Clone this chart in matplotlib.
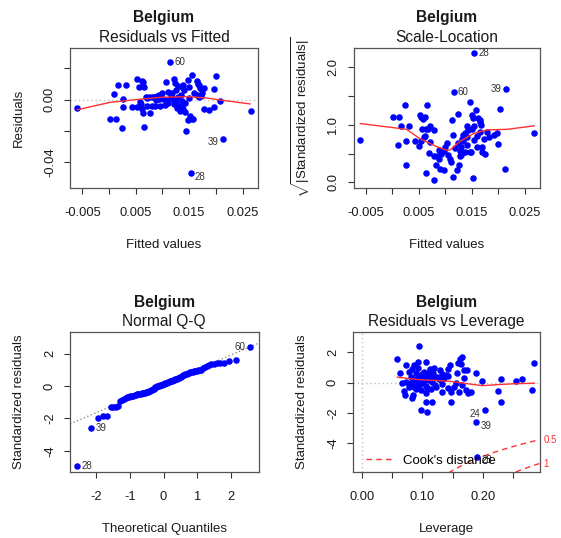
import matplotlib
matplotlib.use("Agg")
import matplotlib.pyplot as plt
import numpy as np
from statistics import NormalDist
from matplotlib.transforms import blended_transform_factory, offset_copy
from matplotlib.lines import Line2D

plt.rcParams['font.family'] = ['Liberation Sans', 'DejaVu Sans']
plt.rcParams['mathtext.fontset'] = 'custom'
plt.rcParams['mathtext.rm'] = 'Liberation Sans'
plt.rcParams['mathtext.it'] = 'Liberation Sans:italic'

country = "Belgium"

# ---------------- Panel 1: Residuals vs Fitted ----------------
fitted1 = [-0.00594, 0.0002, 0.0013, 0.0010, 0.00175, 0.0031, 0.0026, 0.0027, 0.0024, 0.0043,
           0.0052, 0.0052, 0.0061, 0.0064, 0.0057, 0.0066, 0.0061, 0.0058, 0.0064, 0.0066,
           0.0076, 0.0069, 0.0075, 0.0080, 0.0084, 0.0089, 0.0093, 0.0099, 0.0080, 0.0086,
           0.0096, 0.0093, 0.0106, 0.0111, 0.0116, 0.0114, 0.0122, 0.0126, 0.0129, 0.0125,
           0.0131, 0.0136, 0.0133, 0.0139, 0.0143, 0.0136, 0.0139, 0.0141, 0.0147, 0.0149,
           0.0144, 0.0147, 0.0152, 0.0155, 0.0158, 0.0153, 0.0156, 0.0164, 0.0169, 0.0171,
           0.0175, 0.0178, 0.0164, 0.0169, 0.0173, 0.0175, 0.0178, 0.0188, 0.0196, 0.0196,
           0.0201, 0.0208, 0.0213, 0.0266, 0.0108, 0.0119, 0.0111, 0.0121, 0.0071, 0.0124,
           0.0130, 0.0102, 0.0136, 0.0060, 0.0072, 0.0088, 0.0098, 0.0118, 0.0128, 0.0134,
           0.0142, 0.0150, 0.0160, 0.0166, 0.0105]
resid1 = [-0.0051, -0.0126, -0.0121, 0.0034, 0.0092, 0.0092, 0.0006, -0.0049, -0.0181, -0.0049,
          -0.0045, 0.0130, 0.0119, 0.0115, 0.0079, 0.0079, -0.0060, -0.0013, -0.0087, -0.0173,
          -0.0083, 0.0019, 0.0015, 0.0019, 0.0015, 0.0026, 0.0032, 0.0045, -0.0040, -0.0040,
          -0.0040, 0.0002, 0.0111, 0.0051, 0.0026, 0.0241, 0.0132, 0.0062, 0.0015, -0.0013,
          -0.0040, -0.0049, -0.0070, -0.0058, -0.0079, 0.0079, 0.0096, 0.0062, 0.0126, 0.0079,
          -0.0198, -0.0130, -0.0104, -0.0126, -0.0126, -0.0471, 0.0158, 0.0119, 0.0094, 0.0077,
          0.0062, 0.0072, 0.0030, 0.0019, 0.0026, 0.0040, -0.0060, -0.0066, -0.0049, 0.0066,
          0.0153, -0.0006, -0.0249, -0.0072, -0.0002, 0.0002, -0.0023, -0.0028, -0.0040, 0.0104,
          0.0087, 0.0006, -0.0009, -0.0030, 0.0008, -0.0005, 0.0010, 0.0040, -0.0050, 0.0030,
          -0.0020, 0.0008, 0.0045, 0.0100, -0.0035]
ids1 = [("60", 35), ("28", 55), ("39", 72)]
smooth1_x = [-0.0059, 0.0002, 0.0058, 0.0100, 0.0150, 0.0185, 0.0208, 0.0264]
smooth1_y = [-0.0064, -0.0017, 0.0003, 0.0016, 0.0019, 0.0010, -0.0002, -0.0027]

# ---------------- Panel 2: Scale-Location ----------------
fitted2 = [-0.0060, 0.0002, 0.0012, 0.0011, 0.0017, 0.0025, 0.0026, 0.0027, 0.0031, 0.0043,
           0.0051, 0.0052, 0.0055, 0.0059, 0.0062, 0.0066, 0.0055, 0.0060, 0.0057, 0.0063,
           0.0068, 0.0063, 0.0070, 0.0078, 0.0078, 0.0079, 0.0083, 0.0085, 0.0089, 0.0093,
           0.0090, 0.0097, 0.0100, 0.0103, 0.0109, 0.0111, 0.0113, 0.0114, 0.0116, 0.0114,
           0.0122, 0.0124, 0.0125, 0.0127, 0.0128, 0.0130, 0.0130, 0.0132, 0.0133, 0.0138,
           0.0141, 0.0142, 0.0144, 0.0146, 0.0147, 0.0149, 0.0151, 0.0152, 0.0152, 0.0155,
           0.0154, 0.0159, 0.0162, 0.0165, 0.0168, 0.0166, 0.0170, 0.0170, 0.0173, 0.0175,
           0.0179, 0.0182, 0.0192, 0.0198, 0.0200, 0.0203, 0.0212, 0.0215, 0.0268, 0.0161,
           0.0138, 0.0071, 0.0154, 0.0062, 0.0072, 0.0088, 0.0098, 0.0118, 0.0128, 0.0134,
           0.0142, 0.0150, 0.0160, 0.0166, 0.0105]
sqrt_std2 = [0.74, 1.13, 1.13, 0.64, 0.98, 1.35, 0.71, 0.31, 0.98, 0.71,
             0.63, 1.16, 1.13, 1.10, 1.14, 1.35, 0.71, 0.78, 0.92, 0.92,
             0.92, 0.17, 0.51, 0.91, 0.05, 0.46, 0.30, 0.46, 0.56, 0.50,
             0.23, 0.21, 0.62, 0.68, 0.40, 0.36, 1.08, 0.82, 1.56, 0.09,
             0.21, 0.68, 1.18, 0.31, 0.45, 0.47, 0.62, 0.76, 0.82, 0.53,
             0.78, 0.97, 0.91, 0.53, 1.40, 0.53, 1.17, 1.11, 0.08, 2.24,
             0.97, 1.25, 1.11, 1.08, 0.99, 0.88, 0.62, 0.53, 0.76, 0.50,
             0.88, 0.79, 0.82, 0.85, 0.66, 1.28, 0.24, 1.62, 0.86, 0.62,
             0.85, 0.98, 0.73, 0.80, 0.70, 0.40, 0.55, 0.60, 0.55, 0.72,
             0.65, 0.92, 0.80, 1.05, 0.48]
ids2 = [("60", 38), ("28", 59), ("39", 77)]
smooth2_x = [-0.0060, 0.0027, 0.0052, 0.0084, 0.0102, 0.0109, 0.0128, 0.0154, 0.0179, 0.0217, 0.0268]
smooth2_y = [1.02, 0.92, 0.76, 0.62, 0.56, 0.56, 0.71, 0.85, 0.91, 0.92, 0.98]

# ---------------- Panel 3: Normal Q-Q (sorted standardized residuals) ----------------
qq_std = [-4.95, -2.61, -1.95, -1.84, -1.83, -1.30, -1.29, -1.27, -1.25, -0.95,
          -0.84, -0.80, -0.72, -0.68, -0.65, -0.63, -0.61, -0.59, -0.56, -0.54,
          -0.52, -0.50, -0.49, -0.47, -0.46, -0.44, -0.42, -0.41, -0.39, -0.37,
          -0.35, -0.33, -0.30, -0.27, -0.24, -0.21, -0.17, -0.13, -0.08, -0.04,
          -0.02, 0.00, 0.02, 0.04, 0.06, 0.08, 0.10, 0.12, 0.14, 0.16,
          0.18, 0.20, 0.22, 0.25, 0.28, 0.31, 0.33, 0.35, 0.37, 0.39,
          0.41, 0.43, 0.46, 0.49, 0.52, 0.55, 0.58, 0.61, 0.65, 0.69,
          0.72, 0.75, 0.78, 0.81, 0.84, 0.86, 0.88, 0.90, 0.92, 0.94,
          0.96, 0.98, 1.01, 1.10, 1.20, 1.24, 1.28, 1.33, 1.37, 1.39,
          1.40, 1.42, 1.56, 1.62, 2.40]
ids3 = [("28", 0), ("39", 1), ("60", 94)]

# ---------------- Panel 4: Residuals vs Leverage ----------------
lev4 = [.0945, .0586, .0630, .0735, .0669, .0696, .0707, .0779, .0823, .0807,
        .0862, .0890, .0923, .0934, .0945, .0862, .0851, .0834, .0890, .0972,
        .1000, .1028, .1055, .1099, .1110, .1122, .1083, .1066, .1055, .1166,
        .0983, .1077, .1166, .1193, .1210, .1249, .1287, .1304, .1320, .1331,
        .1359, .1387, .1425, .1431, .1453, .1475, .1470, .1525, .1564, .1597,
        .1619, .1641, .1663, .1608, .1652, .1696, .1685, .1718, .1746, .1762,
        .1801, .1884, .1994, .1895, .2033, .1912, .2254, .2298, .2298, .2547,
        .2646, .2823, .2856, .0972, .1044, .1155, .1282, .0724, .0807, .0901,
        .0917, .1011, .1580, .0880, .0950, .1000, .1060, .1100, .1140, .1180,
        .0840, .0780, .1230, .1330, .1420]
std4 = [2.44, 1.56, 0.67, 1.20, -0.04, -0.53, -0.82, 0.73, 0.89, 0.40,
        1.18, 0.62, 1.36, 0.96, 0.40, -0.27, -0.82, -1.04, -0.44, -0.49,
        -0.04, 0.73, 1.38, 0.62, 0.18, 0.89, -0.38, -0.67, -1.27, -1.27,
        -1.82, -1.96, 0.40, 0.96, -0.16, 0.40, 0.84, 0.18, -0.60, -0.09,
        0.29, 0.51, 0.44, 0.89, 1.18, -0.60, -1.27, -0.27, -0.04, 1.29,
        1.56, 1.22, 1.67, -0.60, -0.16, 0.84, 0.29, -0.49, 0.84, -0.71,
        -0.60, 0.67, 0.13, -2.64, -1.82, -4.93, -0.56, 0.22, -1.31, 0.13,
        0.22, -0.49, 1.33, 0.18, 0.18, 0.07, 0.22, 0.07, -0.04, -0.04,
        -0.27, 0.40, 0.62, 0.25, -0.15, 0.55, -0.20, 0.35, -0.45, 0.65,
        0.10, -0.30, -0.30, 0.55, -0.35]
ids4 = [("39", 63), ("24", 64), ("28", 65)]
smooth4_x = [.0586, .0945, .1282, .1497, .1685, .1994, .2254, .2547, .2856]
smooth4_y = [.36, .20, .13, .07, -.04, -.20, -.13, -.07, -.04]
n_params = 12
cook_levels = [0.5, 1]

# ---------------- styling helpers ----------------
BLUE = '#0000FF'
RED = '#FF3030'
GRAY = '#BEBEBE'
BOX = '#555555'
TXT = '#1a1a1a'
TICK_FS = 9.3
LAB_FS = 9.5
TITLE_FS = 11.2
ID_FS = 7.0

fig = plt.figure(figsize=(5.61, 5.38), dpi=100)
W, H = 561.0, 538.0


def make_ax(x0, y_top, x1, y_bot):
    return fig.add_axes([x0 / W, 1 - y_bot / H, (x1 - x0) / W, (y_bot - y_top) / H])


ax1 = make_ax(70, 47.7, 258, 187.7)
ax2 = make_ax(353.5, 47.7, 540, 187.7)
ax3 = make_ax(70, 332, 258.5, 472)
ax4 = make_ax(353, 332, 539.5, 472)


def style(ax, subtitle, xlabel, ylabel, xticks, xlabels, yticks, ylabels, ylabelpad=13.5):
    for s in ax.spines.values():
        s.set_color(BOX)
        s.set_linewidth(0.9)
    ax.set_xticks(xticks)
    ax.set_xticklabels(xlabels)
    ax.set_yticks(yticks)
    ax.set_yticklabels(ylabels)
    ax.tick_params(axis='both', direction='out', length=4.1, width=0.8, color='#333333',
                   labelsize=TICK_FS, labelcolor=TXT)
    ax.tick_params(axis='x', pad=9.6)
    ax.tick_params(axis='y', pad=6.0, labelrotation=90)
    for lbl in ax.get_yticklabels():
        lbl.set_va('center')
    ax.set_xlabel(xlabel, fontsize=LAB_FS, labelpad=14.5, color=TXT)
    ax.set_ylabel(ylabel, fontsize=LAB_FS, labelpad=ylabelpad, color=TXT)
    ax.annotate(subtitle, xy=(0.5, 1.0), xycoords='axes fraction', xytext=(0, 4.3),
                textcoords='offset points', ha='center', va='baseline', fontsize=TITLE_FS,
                color=TXT)
    ax.annotate(country, xy=(0.5, 1.0), xycoords='axes fraction', xytext=(0, 18.2),
                textcoords='offset points', ha='center', va='baseline', fontsize=TITLE_FS,
                fontweight='bold', color=TXT)


def id_label(ax, x, y, txt, side, shift_neg=True):
    dy = -2.5 if (shift_neg and y < 0) else 0
    dx = 3.0 if side == 'right' else -3.0
    ax.annotate(txt, xy=(x, y), xytext=(dx, dy), textcoords='offset points',
                ha='left' if side == 'right' else 'right', va='center',
                fontsize=ID_FS, color='#333333', annotation_clip=False)


def side_for(xs, idxs, i):
    vals = [xs[j] for _, j in idxs]
    mid = (min(vals) + max(vals)) / 2
    return 'left' if xs[i] > mid else 'right'


MS = 22

# Panel 1
ax1.axhline(0, color=GRAY, ls=(0, (1, 2)), lw=1.0, zorder=1)
ax1.scatter(fitted1, resid1, s=MS, color=BLUE, linewidths=0, zorder=3)
ax1.plot(smooth1_x, smooth1_y, color=RED, lw=1.0, zorder=4)
for t, i in ids1:
    id_label(ax1, fitted1[i], resid1[i], t, side_for(fitted1, ids1, i))
ax1.set_xlim(-0.0073, 0.0279)
ax1.set_ylim(-0.0562, 0.0332)
style(ax1, "Residuals vs Fitted", "Fitted values", "Residuals",
      [-0.005, 0.0, 0.005, 0.01, 0.015, 0.02, 0.025],
      ["-0.005", "", "0.005", "", "0.015", "", "0.025"],
      [-0.04, -0.02, 0.0, 0.02], ["-0.04", "", "0.00", ""])

# Panel 2
ax2.scatter(fitted2, sqrt_std2, s=MS, color=BLUE, linewidths=0, zorder=3)
ax2.plot(smooth2_x, smooth2_y, color=RED, lw=1.0, zorder=4)
for t, i in ids2:
    id_label(ax2, fitted2[i], sqrt_std2[i], t, side_for(fitted2, ids2, i))
ax2.set_xlim(-0.0073, 0.0279)
ax2.set_ylim(-0.092, 2.335)
style(ax2, "Scale-Location", "Fitted values",
      r"$\sqrt{|\mathrm{Standardized\ residuals}|}$",
      [-0.005, 0.0, 0.005, 0.01, 0.015, 0.02, 0.025],
      ["-0.005", "", "0.005", "", "0.015", "", "0.025"],
      [0.0, 0.5, 1.0, 1.5, 2.0], ["0.0", "", "1.0", "", "2.0"], ylabelpad=11)

# Panel 3
n = len(qq_std)
theo = [NormalDist().inv_cdf((k + 0.5) / n) for k in range(n)]
yq1, yq3 = np.quantile(qq_std, [0.25, 0.75])
xq1, xq3 = NormalDist().inv_cdf(0.25), NormalDist().inv_cdf(0.75)
slope = (yq3 - yq1) / (xq3 - xq1)
icpt = yq1 - slope * xq1
ax3.axline((0, icpt), slope=slope, color='#777777', ls=(0, (1, 2)), lw=0.9, zorder=1)
ax3.scatter(theo, qq_std, s=MS, color=BLUE, linewidths=0, zorder=3)
for t, i in ids3:
    id_label(ax3, theo[i], qq_std[i], t, side_for(theo, ids3, i), shift_neg=False)
ax3.set_xlim(-2.775, 2.815)
ax3.set_ylim(-5.30, 3.33)
style(ax3, "Normal Q-Q", "Theoretical Quantiles", "Standardized residuals",
      [-2, -1, 0, 1, 2], ["-2", "-1", "0", "1", "2"],
      [-4, -2, 0, 2], ["-4", "-2", "0", "2"])

# Panel 4
xl4 = (-0.0149, 0.294)
ax4.axhline(0, color=GRAY, ls=(0, (1, 2)), lw=1.0, zorder=1)
ax4.axvline(0, color=GRAY, ls=(0, (1, 2)), lw=1.0, zorder=1)
ax4.scatter(lev4, std4, s=MS, color=BLUE, linewidths=0, zorder=3)
ax4.plot(smooth4_x, smooth4_y, color=RED, lw=1.0, zorder=4)
hh = np.linspace(min(min(lev4), max(lev4) / 100), xl4[1], 101)
for lvl in cook_levels:
    cl = np.sqrt(lvl * n_params * (1 - hh) / hh)
    ax4.plot(hh, cl, color=RED, ls=(0, (4, 3)), lw=1.0, zorder=2)
    ax4.plot(hh, -cl, color=RED, ls=(0, (4, 3)), lw=1.0, zorder=2)
ymult = np.sqrt(n_params * (1 - xl4[1]) / xl4[1])
ax4.set_xlim(*xl4)
ax4.set_ylim(-5.93, 3.36)
tr = offset_copy(blended_transform_factory(ax4.transAxes, ax4.transData), fig=fig, x=3, y=0, units='points')
for lvl in cook_levels:
    for sgn in (-1, 1):
        yv = sgn * np.sqrt(lvl) * ymult
        if -5.93 < yv < 3.36:
            ax4.text(1.0, yv, f"{lvl:g}", transform=tr, ha='left', va='center',
                     fontsize=ID_FS, color=RED, clip_on=False)
for t, i in ids4:
    id_label(ax4, lev4[i], std4[i], t, side_for(lev4, ids4, i))
leg = ax4.legend([Line2D([0], [0], color=RED, ls=(0, (4, 3)), lw=1.0)], ["Cook's distance"],
                 loc='lower left', bbox_to_anchor=(0.068, 0.035), frameon=False,
                 fontsize=LAB_FS, handlelength=1.9, handletextpad=0.9, borderpad=0,
                 borderaxespad=0)
style(ax4, "Residuals vs Leverage", "Leverage", "Standardized residuals",
      [0.0, 0.05, 0.10, 0.15, 0.20, 0.25], ["0.00", "", "0.10", "", "0.20", ""],
      [-4, -2, 0, 2], ["-4", "-2", "0", "2"])

fig.savefig("out.png", dpi=100)
